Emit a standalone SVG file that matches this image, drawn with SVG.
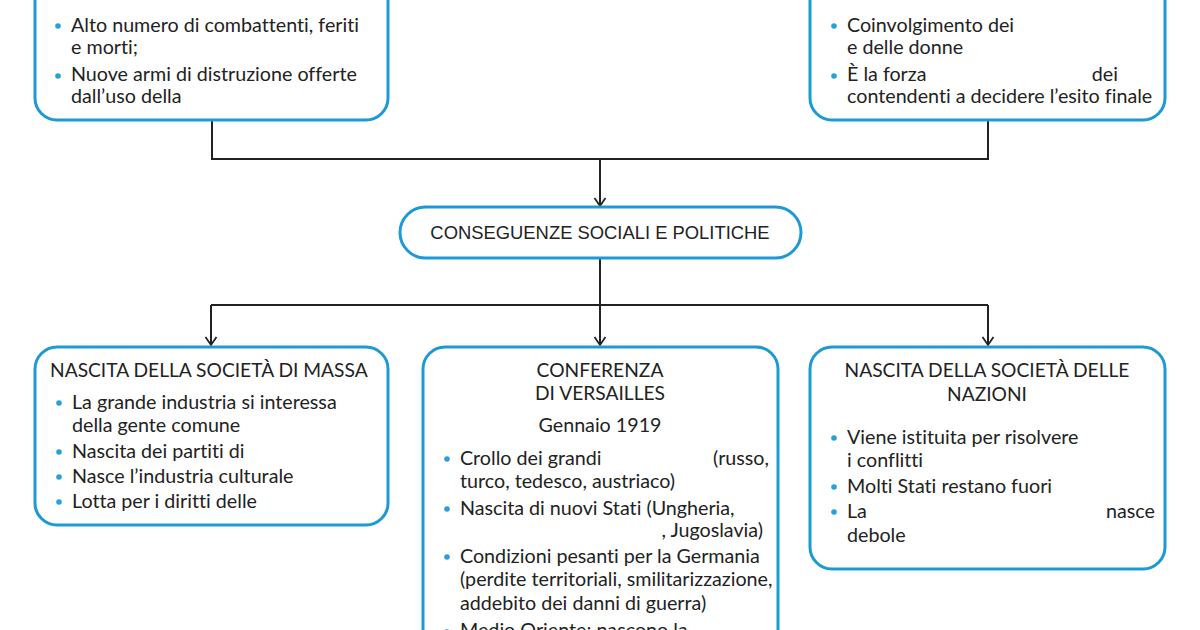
<svg xmlns="http://www.w3.org/2000/svg" width="1200" height="630" viewBox="0 0 1200 630">
<defs>
<style>
.box{fill:#fff;stroke:#1d9ad6;stroke-width:3}
.t{font-family:Lato,"Open Sans",sans-serif;font-size:19.7px;fill:#222;font-variant-ligatures:none}
.h{font-size:19.2px}
.c{text-anchor:middle}
.e{text-anchor:end}
.pill{font-family:"Liberation Sans",Arial,sans-serif;font-size:18.4px;fill:#222;text-anchor:middle}
.dot{fill:#2a9fd8}
.ln{fill:none;stroke:#222;stroke-width:2}
</style>
<marker id="arr" viewBox="-10 -7 12 14" refX="0" refY="0" markerWidth="12" markerHeight="14" markerUnits="userSpaceOnUse" orient="auto">
<path d="M-8,-5.5 L0,0 L-8,5.5" fill="none" stroke="#222" stroke-width="1.8"/>
</marker>
</defs>
<rect width="1200" height="630" fill="#fff"/>
<g id="connectors">
<path class="ln" d="M212,120 V159 H988 V120"/>
<path class="ln" d="M600,159 V206" marker-end="url(#arr)"/>
<path class="ln" d="M600,258 V305"/>
<path class="ln" d="M211,305 H988"/>
<path class="ln" d="M211,305 V345" marker-end="url(#arr)"/>
<path class="ln" d="M600,305 V345" marker-end="url(#arr)"/>
<path class="ln" d="M988,305 V345" marker-end="url(#arr)"/>
</g>
<g id="node-top-left">
<rect class="box" x="35" y="-40" width="353" height="160" rx="22"/>
<circle class="dot" cx="58" cy="26" r="2.8"/>
<text class="t" x="71" y="32">Alto numero di combattenti, feriti</text>
<text class="t" x="71" y="54">e morti;</text>
<circle class="dot" cx="58" cy="76" r="2.8"/>
<text class="t" x="71" y="81">Nuove armi di distruzione offerte</text>
<text class="t" x="71" y="103">dall’uso della</text>
</g>
<g id="node-top-right">
<rect class="box" x="810" y="-40" width="355" height="160" rx="22"/>
<circle class="dot" cx="834" cy="26" r="2.8"/>
<text class="t" x="847" y="32">Coinvolgimento dei</text>
<text class="t" x="847" y="54">e delle donne</text>
<circle class="dot" cx="834" cy="76" r="2.8"/>
<text class="t" x="847" y="81">È la forza</text>
<text class="t e" x="1118" y="81">dei</text>
<text class="t" x="847" y="103">contendenti a decidere l’esito finale</text>
</g>
<g id="node-conseguenze">
<rect class="box" x="400" y="207" width="401" height="51" rx="25.5"/>
<text class="pill" x="600" y="239">CONSEGUENZE SOCIALI E POLITICHE</text>
</g>
<g id="node-massa">
<rect class="box" x="35" y="347" width="353" height="178" rx="22"/>
<text class="t h" x="50" y="377">NASCITA DELLA SOCIETÀ DI MASSA</text>
<circle class="dot" cx="59" cy="403" r="2.8"/>
<text class="t" x="72" y="409">La grande industria si interessa</text>
<text class="t" x="72" y="432">della gente comune</text>
<circle class="dot" cx="59" cy="452" r="2.8"/>
<text class="t" x="72" y="458">Nascita dei partiti di</text>
<circle class="dot" cx="59" cy="477" r="2.8"/>
<text class="t" x="72" y="483">Nasce l’industria culturale</text>
<circle class="dot" cx="59" cy="502" r="2.8"/>
<text class="t" x="72" y="508">Lotta per i diritti delle</text>
</g>
<g id="node-versailles">
<rect class="box" x="423" y="347" width="355" height="320" rx="22"/>
<text class="t c h" x="600" y="377">CONFERENZA</text>
<text class="t c h" x="600" y="400">DI VERSAILLES</text>
<text class="t c" x="600" y="432">Gennaio 1919</text>
<circle class="dot" cx="447" cy="459" r="2.8"/>
<text class="t" x="460" y="465">Crollo dei grandi</text>
<text class="t e" x="769" y="465">(russo,</text>
<text class="t" x="460" y="488">turco, tedesco, austriaco)</text>
<circle class="dot" cx="447" cy="509" r="2.8"/>
<text class="t" x="460" y="515">Nascita di nuovi Stati (Ungheria,</text>
<text class="t e" x="763" y="537">, Jugoslavia)</text>
<circle class="dot" cx="447" cy="557" r="2.8"/>
<text class="t" x="460" y="563">Condizioni pesanti per la Germania</text>
<text class="t" x="460" y="586">(perdite territoriali, smilitarizzazione,</text>
<text class="t" x="460" y="610">addebito dei danni di guerra)</text>
<circle class="dot" cx="447" cy="632" r="2.8"/>
<text class="t" x="460" y="637">Medio Oriente: nascono la</text>
</g>
<g id="node-nazioni">
<rect class="box" x="810" y="347" width="355" height="222" rx="22"/>
<text class="t c h" x="987" y="377">NASCITA DELLA SOCIETÀ DELLE</text>
<text class="t c h" x="987" y="401">NAZIONI</text>
<circle class="dot" cx="834" cy="438" r="2.8"/>
<text class="t" x="847" y="444">Viene istituita per risolvere</text>
<text class="t" x="847" y="467">i conflitti</text>
<circle class="dot" cx="834" cy="487" r="2.8"/>
<text class="t" x="847" y="493">Molti Stati restano fuori</text>
<circle class="dot" cx="834" cy="512" r="2.8"/>
<text class="t" x="847" y="518">La</text>
<text class="t e" x="1155" y="518">nasce</text>
<text class="t" x="847" y="542">debole</text>
</g>
</svg>
